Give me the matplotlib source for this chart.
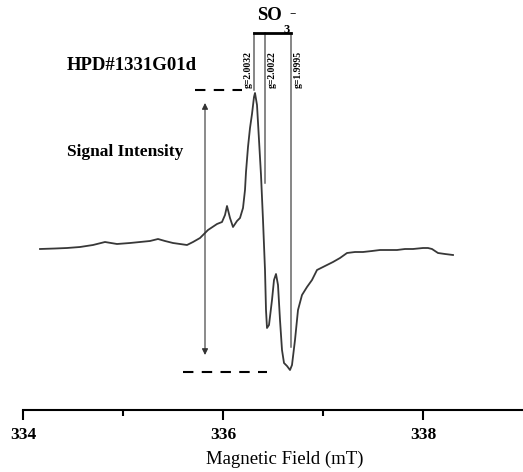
import matplotlib.pyplot as plt

# EPR spectrum (field in mT, intensity in a.u.)
field = [334.17, 334.32, 334.44, 334.57, 334.70, 334.82, 334.94, 335.07, 335.17,
         335.27, 335.35, 335.42, 335.50, 335.57, 335.64, 335.70, 335.77, 335.85,
         335.94, 335.99, 336.02, 336.04, 336.07, 336.10, 336.14, 336.17, 336.20,
         336.22, 336.23, 336.25, 336.27, 336.29, 336.31, 336.32, 336.34, 336.36,
         336.38, 336.40, 336.42, 336.43, 336.44, 336.46, 336.49, 336.51, 336.53,
         336.55, 336.57, 336.59, 336.61, 336.64, 336.67, 336.69, 336.72, 336.75,
         336.79, 336.84, 336.89, 336.94, 337.00, 337.10, 337.17, 337.24, 337.32,
         337.40, 337.49, 337.57, 337.67, 337.74, 337.82, 337.90, 338.00, 338.05,
         338.09, 338.15, 338.22, 338.30]
intensity = [1, 1.5, 2, 3, 5, 8, 6, 7, 8,
             9, 11, 9, 7, 6, 5, 8, 12, 20,
             26, 28, 35, 44, 32, 23, 29, 32, 42,
             60, 78, 103, 122, 136, 153, 157, 145, 110,
             75, 30, -20, -60, -78, -75, -50, -30, -24,
             -35, -70, -100, -113, -116, -120, -115, -90, -60,
             -45, -37, -30, -20, -17, -12, -8, -3, -2,
             -2, -1, 0, 0, 0, 1, 1, 2, 2,
             1, -3, -4, -5]

# g-value markers of the SO3- radical
g_labels = ["g=2.0032", "g=2.0022", "g=1.9995"]
g_fields = [336.31, 336.42, 336.68]
g_bottoms = [160, 67, -97]
g_top = 217

xticks_major = [334, 336, 338]
xticks_minor = [335, 337]

plt.rcParams["font.family"] = ["Liberation Serif", "DejaVu Serif"]

fig = plt.figure(figsize=(5.23, 4.72), dpi=100)
ax = fig.add_axes([23 / 523, 1 - 410 / 472, 524 / 523, 410 / 472])

ax.plot(field, intensity, color="#383838", lw=1.3)

# g lines and SO3- bar
for gf, gb in zip(g_fields, g_bottoms):
    ax.plot([gf, gf], [gb, g_top], color="#666666", lw=1.1)
ax.plot([g_fields[0], g_fields[-1]], [g_top, g_top], color="black", lw=2)
offsets = [-0.06, 0.07, 0.07]
for lab, gf, dx in zip(g_labels, g_fields, offsets):
    ax.text(gf + dx, 162, lab, rotation=90, ha="center", va="bottom",
            fontsize=7, fontweight="bold")

ax.text(336.34, 230, "SO", fontsize=13.5, fontweight="bold", ha="left", va="baseline")
ax.text(336.61, 217, "3", fontsize=9, fontweight="bold", ha="left", va="baseline")
ax.text(336.66, 234, "\u2212", fontsize=8, fontweight="bold", ha="left", va="baseline")

# peak-to-peak signal intensity
top, bottom = max(intensity), min(intensity)
ax.plot([335.72, 336.19], [top + 3, top + 3], color="black", lw=1.5, ls=(0, (5, 4)))
ax.plot([335.60, 336.44], [bottom - 2, bottom - 2], color="black", lw=1.5, ls=(0, (5, 4)))
ax.annotate("", xy=(335.82, top - 10), xytext=(335.82, bottom + 15),
            arrowprops=dict(arrowstyle="<|-|>", color="#333333", lw=0.8,
                            mutation_scale=9, shrinkA=0, shrinkB=0))

ax.text(334.44, 185, "HPD#1331G01d", fontsize=13.5, fontweight="bold",
        ha="left", va="center")
ax.text(334.44, 98, "Signal Intensity", fontsize=12.5, fontweight="bold",
        ha="left", va="center")

ax.set_xlim(334, 339.24)
ax.set_ylim(-160, 250)
ax.set_xticks(xticks_major)
ax.set_xticks(xticks_minor, minor=True)
ax.set_yticks([])
for s in ["left", "right", "top"]:
    ax.spines[s].set_visible(False)
ax.spines["bottom"].set_linewidth(1.5)
ax.tick_params(axis="x", which="major", length=7, width=1.5, pad=5, labelsize=12.5)
ax.tick_params(axis="x", which="minor", length=4, width=1.5)
for t in ax.get_xticklabels():
    t.set_fontweight("bold")
ax.set_xlabel("Magnetic Field (mT)", fontsize=13.5, labelpad=6)

fig.savefig("out.png", dpi=100)
plt.close(fig)
